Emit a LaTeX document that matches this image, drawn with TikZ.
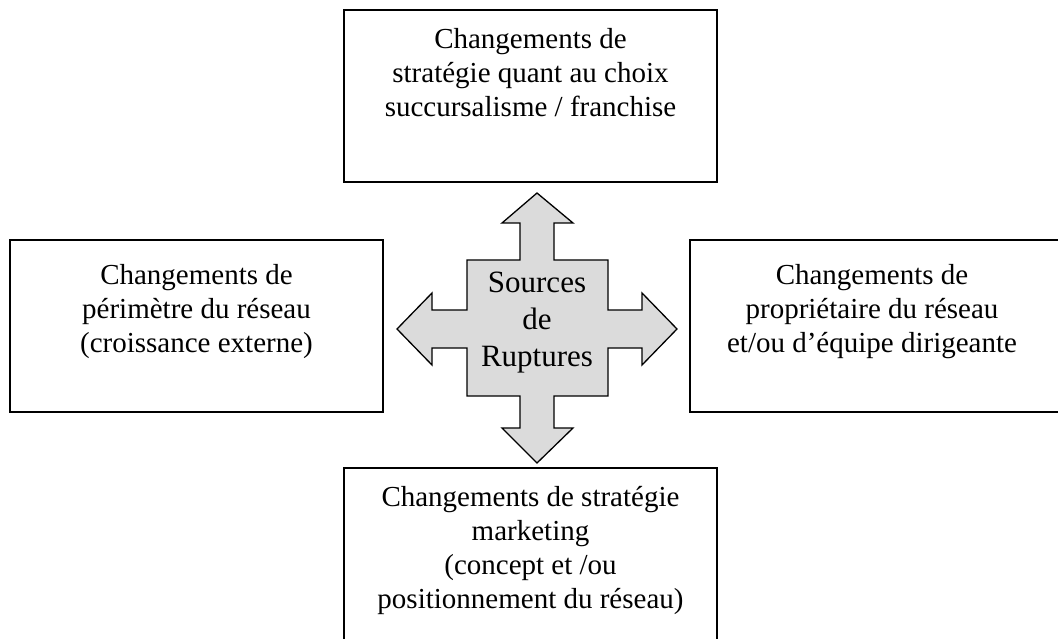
\documentclass[tikz,border=0pt]{standalone}
\usepackage{fontspec}
\setmainfont{Liberation Serif}
\begin{document}
\begin{tikzpicture}[x=1pt,y=-1pt,
  box/.style={draw=black,line width=1.6pt,fill=white,inner sep=0pt},
  boxtext/.style={align=center,inner sep=0pt,anchor=north,font=\fontsize{29}{34}\selectfont},
  cross/.style={draw=black,line width=1.3pt,fill=black!14,line join=miter}]
\useasboundingbox (0,0) rectangle (1058,639);
% boxes
\draw[box] (344,10) rectangle (717,182) coordinate (tb);
\draw[box] (10,240) rectangle (383,412);
\draw[box] (690,240) rectangle (1064,412);
\draw[box] (344,468) rectangle (717,645);
% box texts
\node[boxtext] (top) at (530.5,28) {Changements de\\stratégie quant au choix\\succursalisme / franchise};
\node[boxtext] (left) at (196.5,264) {Changements de\\périmètre du réseau\\(croissance externe)};
\node[boxtext] (right) at (872,264) {Changements de\\propriétaire du réseau\\et/ou d’équipe dirigeante};
\node[boxtext] (bottom) at (530.5,486) {Changements de stratégie\\marketing\\(concept et /ou\\positionnement du réseau)};
% cross arrow
\draw[cross] (537,193) -- (573,223) -- (554,223) -- (554,260) -- (608,260) -- (608,310)
  -- (642,310) -- (642,293) -- (677,329) -- (642,365) -- (642,348) -- (608,348)
  -- (608,396) -- (554,396) -- (554,428) -- (573,428) -- (537,463) -- (502,428)
  -- (520,428) -- (520,396) -- (467,396) -- (467,348) -- (432,348) -- (432,365)
  -- (397,329) -- (432,293) -- (432,310) -- (467,310) -- (467,260) -- (520,260)
  -- (520,223) -- (502,223) -- cycle;
\node[align=center,inner sep=0pt,anchor=north,font=\fontsize{31}{37}\selectfont] (src) at (537,272) {Sources\\de\\Ruptures};
\end{tikzpicture}
\end{document}
